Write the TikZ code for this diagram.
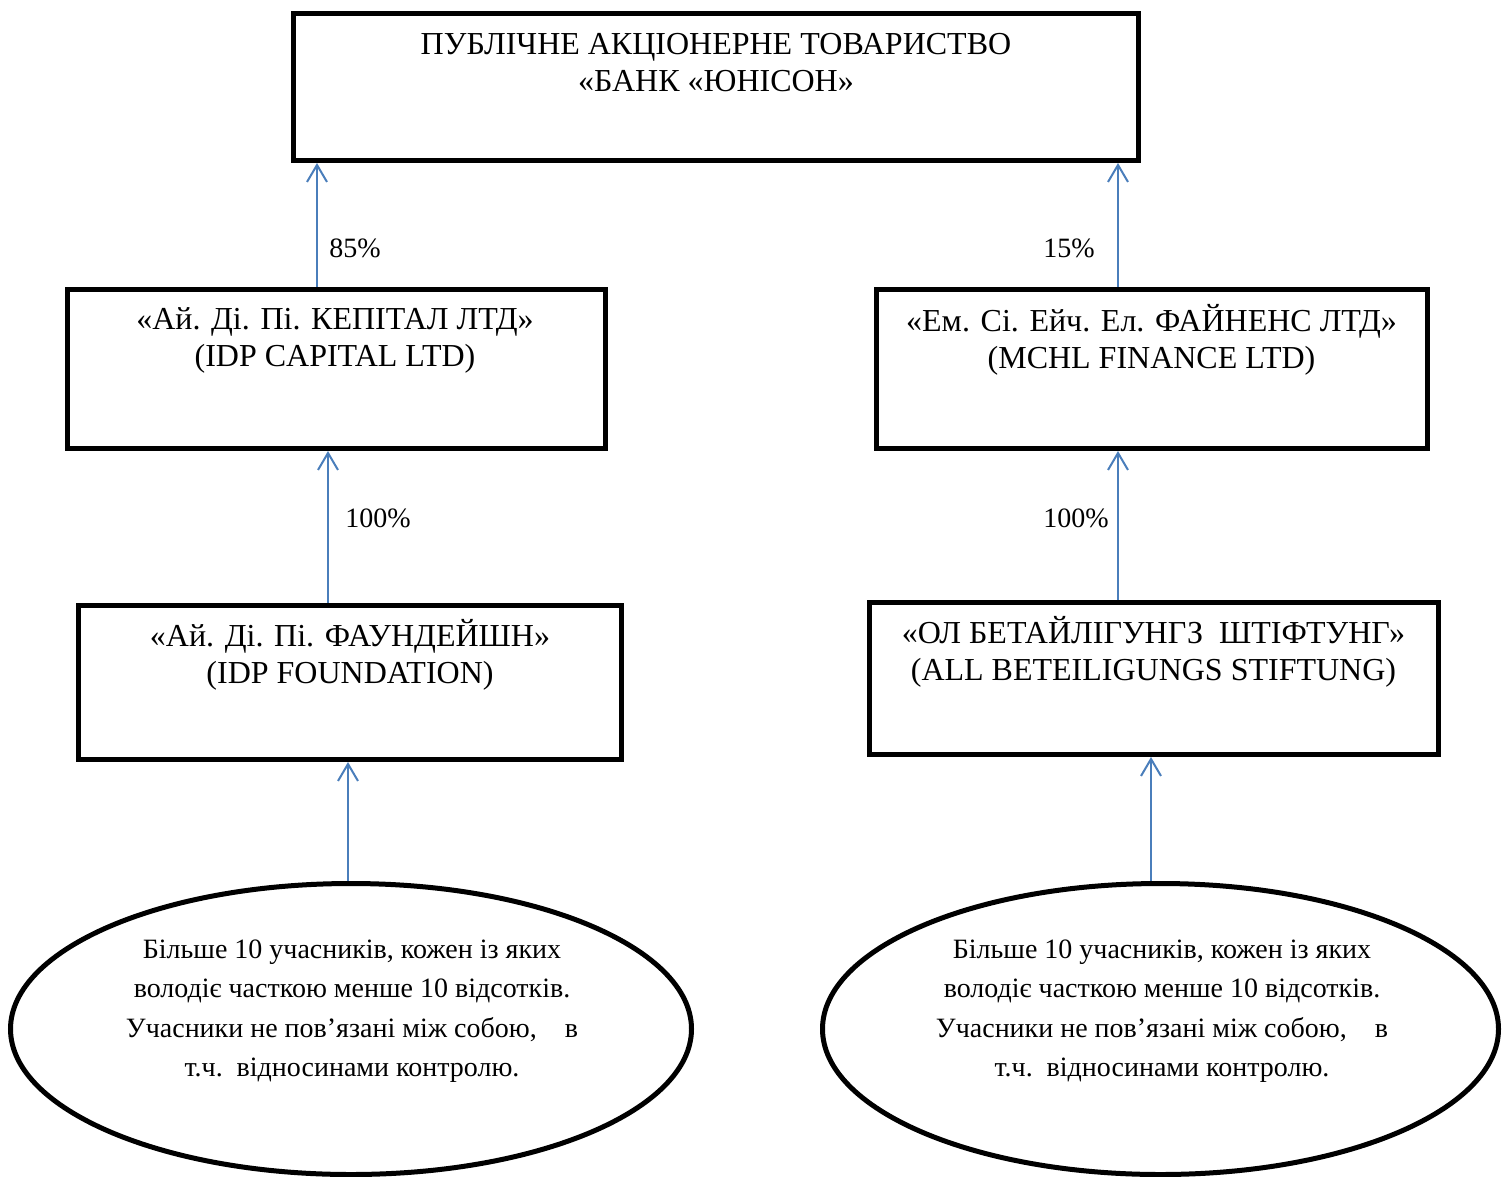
\documentclass[tikz,border=0pt]{standalone}
\usepackage{fontspec}
\setmainfont{Liberation Serif}
\usetikzlibrary{shapes.geometric,arrows.meta}
\definecolor{arrblue}{RGB}{74,126,187}
\tikzset{
  box/.style={draw=black, line width=5pt, rectangle, inner sep=0pt},
  oval/.style={draw=black, line width=5pt, ellipse, inner sep=0pt},
  boxtext/.style={align=center, font=\fontsize{32}{37}\selectfont, inner sep=0pt},
  ovaltext/.style={align=center, font=\fontsize{28}{39.5}\selectfont, inner sep=0pt},
  pct/.style={font=\fontsize{28}{32}\selectfont, inner sep=0pt},
  arr/.style={draw=arrblue, line width=2pt, -{Straight Barb[length=17pt, width=20pt, line width=2pt]}}
}
\begin{document}
\begin{tikzpicture}[x=1pt, y=-1pt]
\useasboundingbox (0,0) rectangle (1502,1176);
% boxes
\node[box, minimum width=845pt, minimum height=147pt] (bank) at (716,87) {};
\node[box, minimum width=538pt, minimum height=159pt] (capital) at (336.5,369) {};
\node[box, minimum width=551pt, minimum height=159pt] (mchl) at (1152,369) {};
\node[box, minimum width=543pt, minimum height=154pt] (found) at (350,682.5) {};
\node[box, minimum width=569pt, minimum height=152pt] (allst) at (1154,678.5) {};
\node[oval, minimum width=681pt, minimum height=291pt] (ovl) at (351,1029) {};
\node[oval, minimum width=676pt, minimum height=291pt] (ovr) at (1160.5,1029) {};
% texts
\node[boxtext] (tbank) at (716,62.5) {ПУБЛІЧНЕ АКЦІОНЕРНЕ ТОВАРИСТВО\\«БАНК «ЮНІСОН»};
\node[boxtext] (tcap) at (335,340) {«Ай. Ді. Пі. КЕПІТАЛ ЛТД»\\(IDP CAPITAL LTD)};
\node[boxtext] (tmchl) at (1151.5,339.5) {«Ем. Сі. Ейч. Ел. ФАЙНЕНС ЛТД»\\(MCHL FINANCE LTD)};
\node[boxtext] (tfound) at (350,654.5) {«Ай. Ді. Пі. ФАУНДЕЙШН»\\(IDP FOUNDATION)};
\node[boxtext] (tall) at (1153.5,651.5) {«ОЛ БЕТАЙЛІГУНГЗ\ \ ШТІФТУНГ»\\(ALL BETEILIGUNGS STIFTUNG)};
\node[ovaltext] (tovl) at (352,1011) {Більше 10 учасників, кожен із яких\\володіє часткою менше 10 відсотків.\\Учасники не пов’язані між собою,\ \ \ \ в\\т.ч.\ \ відносинами контролю.};
\node[ovaltext] (tovr) at (1162,1011) {Більше 10 учасників, кожен із яких\\володіє часткою менше 10 відсотків.\\Учасники не пов’язані між собою,\ \ \ \ в\\т.ч.\ \ відносинами контролю.};
% arrows
\draw[arr] ([xshift=-19.5pt]capital.north) -- ([xshift=-19.5pt]capital.north |- bank.south);
\draw[arr] ([xshift=-34pt]mchl.north) -- ([xshift=-34pt]mchl.north |- bank.south);
\draw[arr] ([xshift=-22pt]found.north) -- ([xshift=-22pt]found.north |- capital.south);
\draw[arr] ([xshift=-36pt]allst.north) -- ([xshift=-36pt]allst.north |- mchl.south);
\draw[arr] ([xshift=-3pt]ovl.north) -- ([xshift=-3pt]ovl.north |- found.south);
\draw[arr] ([xshift=-9.5pt]ovr.north) -- ([xshift=-9.5pt]ovr.north |- allst.south);
% labels
\node[pct] (l1) at (355,248) {85\%};
\node[pct] (l2) at (1069,248) {15\%};
\node[pct] (l3) at (378,518) {100\%};
\node[pct] (l4) at (1076,518) {100\%};
\end{tikzpicture}
\end{document}
